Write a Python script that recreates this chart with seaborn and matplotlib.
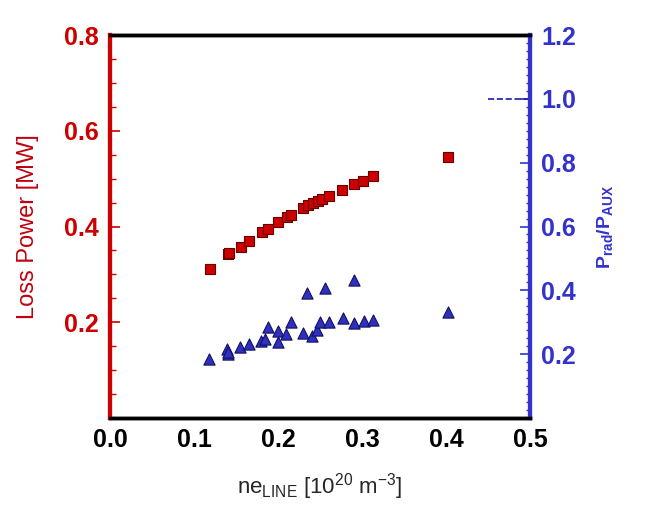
import matplotlib
matplotlib.use('Agg')
import matplotlib.pyplot as plt
from matplotlib.ticker import MultipleLocator
import pandas as pd
import seaborn as sns

# Loss power (left axis) vs line-averaged density
ne_loss = [0.119, 0.140, 0.142, 0.156, 0.165, 0.181, 0.188, 0.200, 0.211, 0.215,
           0.230, 0.236, 0.242, 0.248, 0.253, 0.261, 0.276, 0.291, 0.301, 0.313, 0.402]
loss_power = [0.311, 0.342, 0.344, 0.358, 0.370, 0.389, 0.395, 0.410, 0.420, 0.425,
              0.438, 0.444, 0.449, 0.454, 0.458, 0.464, 0.476, 0.488, 0.496, 0.506, 0.545]

# Prad/Paux (right axis)
ne_ratio = [0.118, 0.139, 0.140, 0.141, 0.155, 0.165, 0.180, 0.185, 0.188, 0.200,
            0.200, 0.210, 0.215, 0.230, 0.235, 0.240, 0.246, 0.250, 0.256, 0.261,
            0.277, 0.291, 0.291, 0.302, 0.313, 0.402]
prad_ratio = [0.184, 0.215, 0.200, 0.206, 0.221, 0.232, 0.242, 0.247, 0.286, 0.237,
              0.273, 0.263, 0.302, 0.267, 0.393, 0.257, 0.275, 0.302, 0.408, 0.302,
              0.314, 0.432, 0.298, 0.304, 0.307, 0.332]

ref_x = [0.45, 0.5]
ref_y = [1.0, 1.0]

red = '#cc0000'
blue = '#3333cc'

sns.set_style('white')
plt.rcParams['font.family'] = ['Liberation Sans', 'DejaVu Sans']

fig = plt.figure(figsize=(6.49, 5.11), dpi=100)
ax = fig.add_axes([0.1695, 0.182, 0.647, 0.7495])
ax2 = ax.twinx()

df_loss = pd.DataFrame({'ne': ne_loss, 'loss': loss_power})
df_ratio = pd.DataFrame({'ne': ne_ratio, 'ratio': prad_ratio})

sns.scatterplot(data=df_loss, x='ne', y='loss', ax=ax, marker='s', s=55,
                color=red, edgecolor='#6b0000', linewidth=0.8, zorder=3)
sns.scatterplot(data=df_ratio, x='ne', y='ratio', ax=ax2, marker='^', s=65,
                color='#3030c0', edgecolor='#101060', linewidth=0.8, zorder=3)
sns.lineplot(x=ref_x, y=ref_y, ax=ax2, color='#1a1aa0', linestyle='--', linewidth=1.2)

ax.set_xlim(0, 0.5)
ax.set_ylim(0, 0.8)
ax2.set_ylim(0, 1.2)

ax.xaxis.set_major_locator(MultipleLocator(0.1))
ax.xaxis.set_minor_locator(MultipleLocator(0.02))
ax.yaxis.set_major_locator(MultipleLocator(0.2))
ax.yaxis.set_minor_locator(MultipleLocator(0.05))
ax2.yaxis.set_major_locator(MultipleLocator(0.2))
ax2.yaxis.set_minor_locator(MultipleLocator(0.025))

ax.set_yticks([0.2, 0.4, 0.6, 0.8])
ax2.set_yticks([0.2, 0.4, 0.6, 0.8, 1.0, 1.2])
ax.xaxis.set_major_formatter(plt.FormatStrFormatter('%.1f'))
ax.yaxis.set_major_formatter(plt.FormatStrFormatter('%.1f'))
ax2.yaxis.set_major_formatter(plt.FormatStrFormatter('%.1f'))

ax.tick_params(axis='x', which='major', direction='in', length=7, width=1.2,
               labelsize=18, colors='black', pad=7)
ax.tick_params(axis='x', which='minor', direction='in', length=4, width=1)
ax.tick_params(axis='y', which='major', direction='in', length=7, width=1.2,
               labelsize=18, colors=red, pad=8)
ax.tick_params(axis='y', which='minor', direction='in', length=4, width=1, colors=red)
ax2.tick_params(axis='y', which='major', direction='in', length=7, width=1.2,
                labelsize=18, colors=blue, pad=8)
ax2.tick_params(axis='y', which='minor', direction='in', length=3, width=1, colors=blue)

for lab in ax.get_xticklabels() + ax.get_yticklabels() + ax2.get_yticklabels():
    lab.set_fontweight('bold')

for a in (ax, ax2):
    a.spines['top'].set_color('black')
    a.spines['top'].set_linewidth(2.5)
    a.spines['bottom'].set_color('black')
    a.spines['bottom'].set_linewidth(2.5)
    a.spines['left'].set_color(red)
    a.spines['left'].set_linewidth(3)
    a.spines['right'].set_color(blue)
    a.spines['right'].set_linewidth(3)

ax.set_xlabel(r'ne$_{\mathregular{LINE}}$ [10$^{\mathregular{20}}$ m$^{\mathregular{-3}}$]',
              fontsize=16, labelpad=14)
ax.set_ylabel('Loss Power [MW]', fontsize=17, color='#c00010', labelpad=18)
ax2.set_ylabel(r'P$_{\mathregular{rad}}$/P$_{\mathregular{AUX}}$', fontsize=14,
               color=blue, fontweight='bold', labelpad=14)

fig.savefig('out.png', dpi=100)
